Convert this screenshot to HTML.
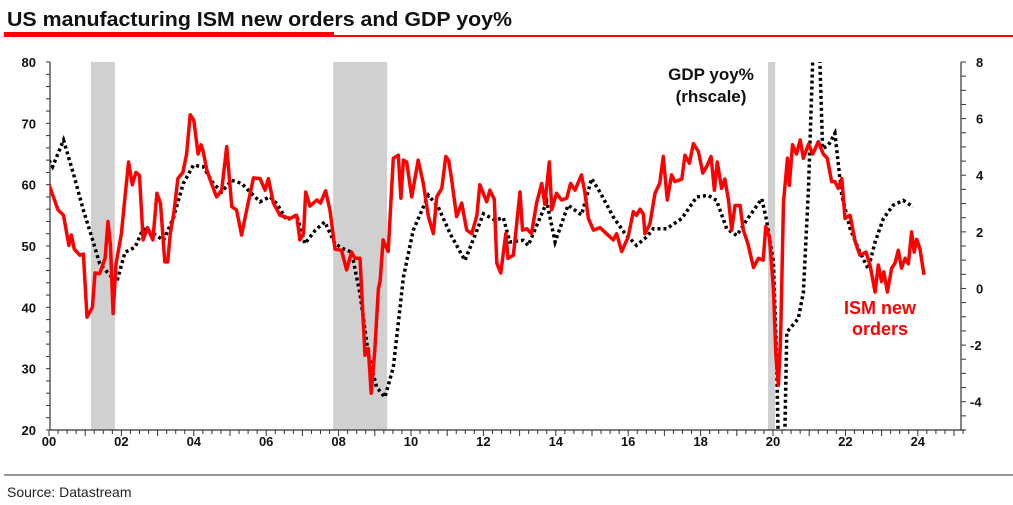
<!DOCTYPE html>
<html><head><meta charset="utf-8"><style>
html,body{margin:0;padding:0;background:#fff;width:1013px;height:505px;overflow:hidden;}
svg{display:block;}
text{font-family:"Liberation Sans",Arial,sans-serif;}
</style></head><body>
<svg id="chart" width="1013" height="505" viewBox="0 0 1013 505">
<text x="7" y="26" font-size="20" font-weight="bold" fill="#111" textLength="505" lengthAdjust="spacingAndGlyphs">US manufacturing ISM new orders and GDP yoy%</text>
<rect x="4" y="32" width="330" height="5" fill="#f00"/>
<rect x="334" y="35" width="679" height="2" fill="#f00"/>
<g id="recessions"></g>
<g id="axes"></g>
<defs><clipPath id="plotclip"><rect x="50" y="62" width="911" height="368"/></clipPath></defs>
<g clip-path="url(#plotclip)"><g id="series"></g></g>
<text x="711" y="80" font-size="17" font-weight="bold" text-anchor="middle" fill="#111">GDP yoy%</text>
<text x="711" y="102" font-size="17" font-weight="bold" text-anchor="middle" fill="#111">(rhscale)</text>
<text x="880" y="314" font-size="18" font-weight="bold" text-anchor="middle" fill="#f00">ISM new</text>
<text x="880" y="335" font-size="18" font-weight="bold" text-anchor="middle" fill="#f00">orders</text>
<rect x="4" y="474" width="1009" height="2" fill="#999"/>
<text x="7" y="497" font-size="14" fill="#222">Source: Datastream</text>
</svg>
<script>
const recessionStarts=[2001.16,2007.85,2019.86];
const recessionEnds=[2001.82,2009.34,2020.06];
const xTickLabels=["00","02","04","06","08","10","12","14","16","18","20","22","24"];
const leftTicks=[20,30,40,50,60,70,80];
const rightTicks=[-4,-2,0,2,4,6,8];
const ismDates=[2000.0,2000.25,2000.4,2000.55,2000.62,2000.7,2000.85,2000.95,2001.05,2001.2,2001.27,2001.4,2001.55,2001.63,2001.7,2001.77,2001.85,2002.0,2002.1,2002.2,2002.3,2002.4,2002.5,2002.6,2002.72,2002.87,2002.98,2003.08,2003.2,2003.28,2003.35,2003.45,2003.56,2003.7,2003.8,2003.9,2004.0,2004.12,2004.2,2004.26,2004.36,2004.5,2004.63,2004.77,2004.91,2005.05,2005.18,2005.32,2005.46,2005.65,2005.83,2005.97,2006.06,2006.2,2006.38,2006.66,2006.84,2006.93,2007.03,2007.09,2007.21,2007.4,2007.5,2007.64,2007.76,2007.9,2008.08,2008.22,2008.36,2008.45,2008.59,2008.73,2008.82,2008.9,2009.0,2009.1,2009.15,2009.23,2009.37,2009.51,2009.65,2009.72,2009.79,2009.88,2010.02,2010.2,2010.34,2010.48,2010.62,2010.71,2010.85,2010.96,2011.04,2011.12,2011.26,2011.4,2011.54,2011.68,2011.82,2011.9,2012.09,2012.18,2012.3,2012.37,2012.48,2012.62,2012.68,2012.83,2013.01,2013.08,2013.2,2013.33,2013.47,2013.61,2013.7,2013.82,2013.89,2014.02,2014.16,2014.3,2014.41,2014.53,2014.71,2014.8,2014.9,2015.04,2015.22,2015.4,2015.59,2015.68,2015.82,2016.0,2016.14,2016.23,2016.33,2016.42,2016.46,2016.6,2016.74,2016.87,2016.97,2017.08,2017.2,2017.29,2017.48,2017.57,2017.69,2017.8,2017.94,2018.06,2018.17,2018.29,2018.38,2018.46,2018.58,2018.67,2018.77,2018.86,2018.95,2019.09,2019.18,2019.3,2019.46,2019.6,2019.73,2019.8,2019.9,2020.01,2020.08,2020.15,2020.21,2020.29,2020.4,2020.45,2020.54,2020.65,2020.75,2020.84,2020.98,2021.1,2021.25,2021.39,2021.5,2021.62,2021.71,2021.8,2021.9,2021.99,2022.13,2022.27,2022.4,2022.57,2022.68,2022.82,2022.91,2023.0,2023.06,2023.16,2023.28,2023.37,2023.46,2023.55,2023.65,2023.74,2023.83,2023.9,2023.97,2024.06,2024.17];
const ismValues=[60,55.9,55,50.1,51.8,49.5,48.5,48.7,38.4,40,45.6,45.5,48,54,50,39,47,52,58,63.7,60,62,61.5,51,53,51,58.6,57,47.4,47.4,52,55.5,61,62,65,71.4,70.5,65,66.5,65.4,62.4,60,58,59.1,66.2,56.4,55.9,51.8,55.9,61.1,61,59.1,61,57,55,54.5,55,51,52,58.8,56.5,57.5,57,59,55.9,49.5,49.3,46.1,49,48,48,32.2,33.3,26,33,43,44.4,51,49.1,64.3,64.8,57.8,64,63.7,58,64,60.2,54.8,52,58,59.4,64.6,64,61,54.8,57,52.6,52,55,60,57.2,59.1,57.6,47.2,45.6,52,48,48.5,58.8,52.6,52.8,52,57,60.2,56.8,63.7,55.9,58.6,57.5,57.8,60.2,59.1,61.6,58.8,54.5,52.6,53,52,51,52,49.1,51.5,55.6,55,56,55.2,52,53.6,58.6,60.2,64.6,57.5,61.6,60.5,60.9,64.8,63.5,66.7,65.4,61.9,63,64.6,59.1,63.7,59.4,60.9,57.5,52.6,56.6,56.6,52.6,50.5,46.5,48,47.7,53.2,51.5,43.1,32.2,27.3,35,57.2,64.3,59.9,66.5,65,67.3,64.3,66.6,65,67,65,64.3,60.5,60.5,59.4,61,54.5,55,50.7,48.5,49,46.9,42.5,46.9,44.2,45.8,42.5,46.4,47.2,49.3,46.4,48,47.1,52.3,49,51.1,49.5,45.3];
const gdpDates=[2000.0,2000.1,2000.4,2000.67,2000.95,2001.18,2001.4,2001.64,2001.87,2002.1,2002.38,2002.6,2002.88,2003.16,2003.43,2003.71,2003.99,2004.26,2004.54,2004.77,2005.05,2005.32,2005.55,2005.83,2006.1,2006.29,2006.57,2006.84,2007.07,2007.35,2007.62,2007.9,2008.13,2008.36,2008.59,2008.82,2009.05,2009.28,2009.51,2009.7,2009.79,2010.06,2010.48,2010.75,2011.08,2011.49,2011.82,2012.0,2012.32,2012.55,2012.73,2013.1,2013.24,2013.75,2013.98,2014.34,2014.71,2014.85,2014.99,2015.22,2015.59,2015.91,2016.23,2016.51,2016.69,2017.06,2017.48,2017.89,2018.21,2018.44,2018.72,2019.0,2019.27,2019.69,2019.82,2020.01,2020.1,2020.2,2020.33,2020.38,2020.7,2020.84,2020.98,2021.2,2021.37,2021.53,2021.71,2021.9,2022.13,2022.36,2022.63,2022.82,2023.05,2023.32,2023.6,2023.87];
const gdpValues=[4.53,4.3,5.24,4.07,2.76,1.82,0.88,0.53,0.22,1.28,1.46,2.11,1.94,1.7,2.47,3.71,4.35,4.3,3.71,3.41,3.82,3.71,3.41,3.06,3.24,3.0,2.41,2.6,1.58,2.05,2.35,1.58,1.4,1.28,-0.19,-2.31,-3.49,-3.84,-2.79,-0.66,0.4,2.05,3.29,2.88,1.94,0.99,2.05,2.64,2.41,2.5,1.64,1.7,1.52,3.06,1.64,2.94,2.6,3.23,3.88,3.4,2.52,1.94,1.52,1.82,2.11,2.11,2.47,3.23,3.29,3.11,2.11,1.87,2.41,3.17,2.41,0.93,-2.4,-9,-5,-1.55,-1.06,-0.13,3.55,12,4.94,5.06,5.48,3.29,2.11,1.4,0.69,1.64,2.47,2.94,3.11,2.88];

const NS="http://www.w3.org/2000/svg";
const X0=49, XS=36.2;
const xs=y=>X0+(y-2000)*XS;
const yl=v=>430-(v-20)*(368/60);
const yr=v=>430-(v+5)*(368/13);
function mk(tag,attrs,parent){const e=document.createElementNS(NS,tag);for(const k in attrs)e.setAttribute(k,attrs[k]);parent.appendChild(e);return e;}
const rec=document.getElementById('recessions');
recessionStarts.forEach((s,i)=>{
  const r=mk('rect',{x:xs(s),y:62,width:xs(recessionEnds[i])-xs(s),height:368,fill:'#d0d0d0'},rec);
  
  
});
const ax=document.getElementById('axes');
let a=mk('line',{x1:50,y1:62,x2:50,y2:430,stroke:'#333','stroke-width':1.2},ax);


a=mk('line',{x1:961,y1:62,x2:961,y2:430,stroke:'#333','stroke-width':1.2},ax);


a=mk('line',{x1:50,y1:430,x2:965,y2:430,stroke:'#333','stroke-width':1.2},ax);


for(let v=20;v<=80;v+=2){mk('line',{x1:46,y1:yl(v),x2:50,y2:yl(v),stroke:'#333'},ax);}
leftTicks.forEach(v=>{
  const t=mk('text',{x:36,y:yl(v)+5,'font-size':13,'font-weight':'bold','text-anchor':'end',fill:'#111'},ax);
  t.textContent=v;
  
  
});
for(let v=-5;v<=8;v+=0.5){mk('line',{x1:961,y1:yr(v),x2:966,y2:yr(v),stroke:'#333'},ax);}
rightTicks.forEach(v=>{
  const t=mk('text',{x:v<0?970:976,y:yr(v)+5,'font-size':13,'font-weight':'bold',fill:'#111'},ax);
  t.textContent=v;
  
  
});
for(let q=0;q<=101;q++){const x=xs(2000+q/4);if(x>965)break;mk('line',{x1:x,y1:430,x2:x,y2:q%4===0?436:434,stroke:'#333'},ax);}
xTickLabels.forEach((l,i)=>{
  const t=mk('text',{x:xs(2000+i*2),y:446,'font-size':13,'font-weight':'bold','text-anchor':'middle',fill:'#111'},ax);
  t.textContent=l;
  
  
});
const ser=document.getElementById('series');
const gd=gdpDates.map((d,i)=>(i?'L':'M')+xs(d).toFixed(1)+','+yr(gdpValues[i]).toFixed(1)).join('');
const gl=mk('path',{d:gd,fill:'none',stroke:'#000','stroke-width':3.5,'stroke-dasharray':'3 3'},ser);


const id=ismDates.map((d,i)=>(i?'L':'M')+xs(d).toFixed(1)+','+yl(ismValues[i]).toFixed(1)).join('');
const il=mk('path',{d:id,fill:'none',stroke:'#f00','stroke-width':3.5,'stroke-linejoin':'round'},ser);


</script>
</body></html>
